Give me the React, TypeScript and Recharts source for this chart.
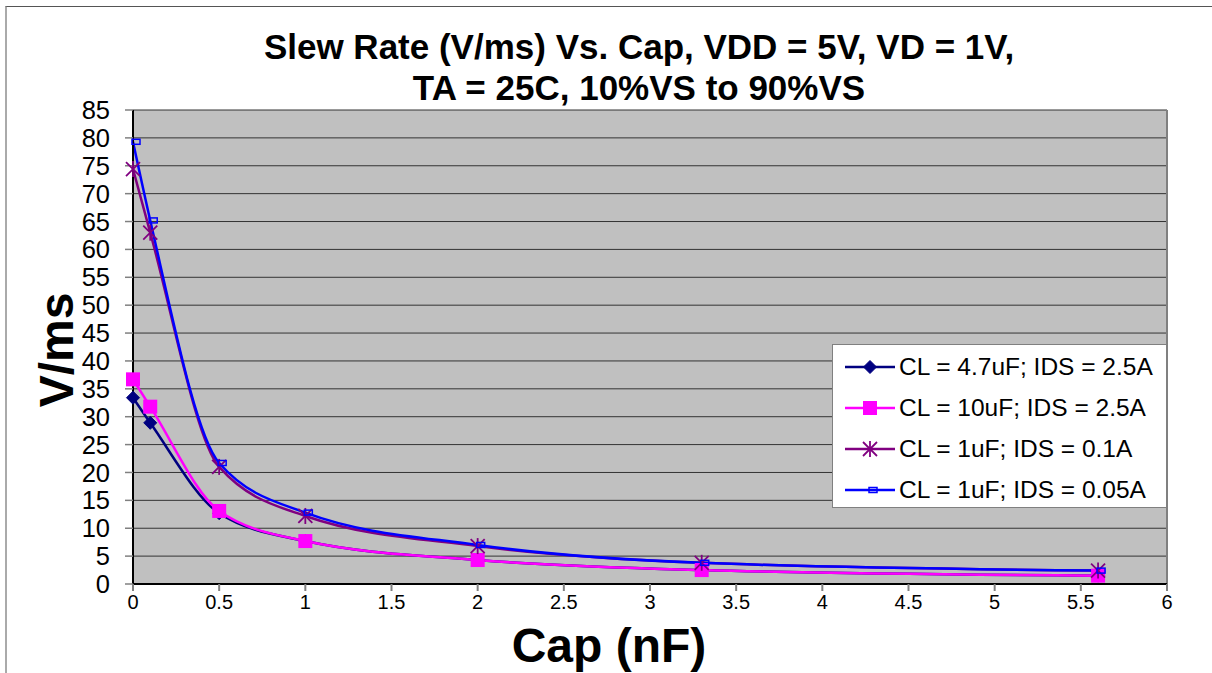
import React from "react";
import {
  CartesianGrid,
  Line,
  LineChart,
  ReferenceLine,
  XAxis,
  YAxis,
} from "recharts";

const capNf = [0, 0.1, 0.5, 1, 2, 3.3, 5.6];

const cl47Ids25 = [33.4, 28.9, 12.7, 7.7, 4.3, 2.5, 1.5];
const cl10Ids25 = [36.7, 31.8, 13.1, 7.7, 4.3, 2.5, 1.5];
const cl1Ids01 = [74.4, 63.0, 21.0, 12.2, 6.8, 3.8, 2.4];
const cl1Ids005 = [79.3, 65.2, 21.7, 12.8, 7.0, 3.8, 2.4];

const xTicks = [0, 0.5, 1, 1.5, 2, 2.5, 3, 3.5, 4, 4.5, 5, 5.5, 6];
const yTicks = [0, 5, 10, 15, 20, 25, 30, 35, 40, 45, 50, 55, 60, 65, 70, 75, 80, 85];

const FONT = "'Liberation Sans', Arial, sans-serif";

type MarkerKind = "diamond" | "square" | "star" | "dash";

type Series = {
  name: string;
  color: string;
  marker: MarkerKind;
  values: number[];
};

const series: Series[] = [
  { name: "CL = 4.7uF; IDS = 2.5A", color: "#000080", marker: "diamond", values: cl47Ids25 },
  { name: "CL = 10uF; IDS = 2.5A", color: "#FF00FF", marker: "square", values: cl10Ids25 },
  { name: "CL = 1uF; IDS = 0.1A", color: "#800080", marker: "star", values: cl1Ids01 },
  { name: "CL = 1uF; IDS = 0.05A", color: "#0000FF", marker: "dash", values: cl1Ids005 },
];

function Marker({ kind, cx, cy, color }: { kind: MarkerKind; cx: number; cy: number; color: string }) {
  if (kind === "diamond") {
    const r = 6.5;
    return (
      <polygon
        points={`${cx},${cy - r} ${cx + r},${cy} ${cx},${cy + r} ${cx - r},${cy}`}
        fill={color}
        stroke={color}
      />
    );
  }
  if (kind === "square") {
    const s = 14;
    return <rect x={cx - s / 2} y={cy - s / 2} width={s} height={s} fill={color} />;
  }
  if (kind === "star") {
    const r = 7;
    return (
      <g stroke={color} strokeWidth={1.8}>
        <line x1={cx - r} y1={cy - r} x2={cx + r} y2={cy + r} />
        <line x1={cx - r} y1={cy + r} x2={cx + r} y2={cy - r} />
        <line x1={cx} y1={cy - r - 1} x2={cx} y2={cy + r + 1} />
      </g>
    );
  }
  return <rect x={cx - 1} y={cy - 2.5} width={8} height={5} fill="none" stroke={color} strokeWidth={1.5} />;
}

function LegendBox() {
  return (
    <div
      style={{
        position: "absolute",
        left: 832,
        top: 344,
        width: 335,
        height: 164,
        background: "#fff",
        border: "1px solid #808080",
        boxSizing: "border-box",
        paddingTop: 1,
        fontFamily: FONT,
        fontSize: 24.5,
        color: "#000",
      }}
    >
      {series.map((s) => (
        <div key={s.name} style={{ display: "flex", alignItems: "center", height: 41 }}>
          <svg width={54} height={20} style={{ marginLeft: 12, flex: "none" }}>
            <line x1={0} y1={10} x2={50} y2={10} stroke={s.color} strokeWidth={2.5} />
            <Marker kind={s.marker} cx={25} cy={10} color={s.color} />
          </svg>
          <span style={{ whiteSpace: "nowrap" }}>{s.name}</span>
        </div>
      ))}
    </div>
  );
}

export default function App() {
  return (
    <div style={{ position: "absolute", left: 0, top: 0, width: 1212, height: 673, background: "#fff", overflow: "hidden" }}>
      <div
        style={{
          position: "absolute",
          left: 5,
          top: 6,
          right: 0,
          bottom: 0,
          borderTop: "1px solid #555",
          borderLeft: "2px solid #aaa",
        }}
      />
      <div
        style={{
          position: "absolute",
          left: 0,
          width: 1278,
          top: 26,
          textAlign: "center",
          fontFamily: FONT,
          fontWeight: "bold",
          fontSize: 35,
          lineHeight: "41px",
          color: "#000",
        }}
      >
        Slew Rate (V/ms) Vs. Cap, VDD = 5V, VD = 1V,
        <br />
        TA = 25C, 10%VS to 90%VS
      </div>
      <div
        style={{
          position: "absolute",
          left: 56,
          top: 350,
          transform: "translate(-50%, -50%) rotate(-90deg)",
          fontFamily: FONT,
          fontWeight: "bold",
          fontSize: 48,
          color: "#000",
          whiteSpace: "nowrap",
        }}
      >
        V/ms
      </div>
      <div
        style={{
          position: "absolute",
          left: 609,
          top: 645,
          transform: "translate(-50%, -50%)",
          fontFamily: FONT,
          fontWeight: "bold",
          fontSize: 48,
          color: "#000",
          whiteSpace: "nowrap",
        }}
      >
        Cap (nF)
      </div>
      <div style={{ position: "absolute", left: 0, top: 0 }}>
        <LineChart width={1212} height={673} margin={{ top: 110, right: 45, left: 63, bottom: 59 }}>
          <CartesianGrid
            horizontal
            vertical={false}
            fill="#C0C0C0"
            fillOpacity={1}
            stroke="#333"
            strokeWidth={1}
          />
          <XAxis
            dataKey="x"
            type="number"
            domain={[0, 6]}
            ticks={xTicks}
            allowDuplicatedCategory={false}
            height={30}
            tickSize={7}
            tickLine={{ stroke: "#808080", strokeWidth: 2 }}
            axisLine={{ stroke: "#000", strokeWidth: 2 }}
            tick={{ fill: "#000", fontSize: 20, fontFamily: FONT }}
            tickMargin={4}
          />
          <YAxis
            type="number"
            domain={[0, 85]}
            ticks={yTicks}
            width={70}
            interval={0}
            tickSize={8}
            tickLine={{ stroke: "#808080", strokeWidth: 1.5 }}
            axisLine={{ stroke: "#000", strokeWidth: 2 }}
            tick={{ fill: "#000", fontSize: 25.5, fontFamily: FONT }}
            tickMargin={15}
          />
          <ReferenceLine x={6} stroke="#808080" strokeWidth={2} />
          {series.map((s) => (
            <Line
              key={s.name}
              name={s.name}
              data={capNf.map((x, i) => ({ x, y: s.values[i] }))}
              dataKey="y"
              type="monotone"
              stroke={s.color}
              strokeWidth={2.5}
              isAnimationActive={false}
              activeDot={false}
              dot={(p: any) => (
                <Marker key={`${s.name}-${p.index}`} kind={s.marker} cx={p.cx} cy={p.cy} color={s.color} />
              )}
            />
          ))}
        </LineChart>
      </div>
      <LegendBox />
    </div>
  );
}
